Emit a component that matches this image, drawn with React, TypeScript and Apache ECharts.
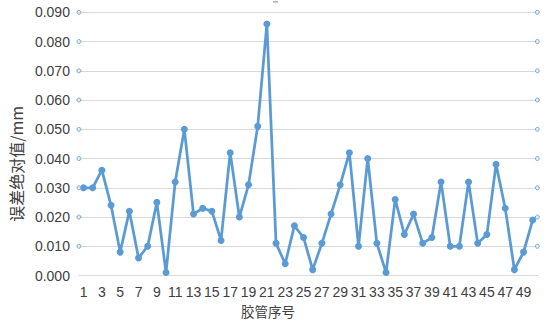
import React, { useEffect, useRef } from "react";
import * as echarts from "echarts";

const categories: string[] = Array.from({ length: 50 }, (_, i) => String(i + 1));
const errorValues: number[] = [
  0.030, 0.030, 0.036, 0.024, 0.008, 0.022, 0.006, 0.010, 0.025, 0.001,
  0.032, 0.050, 0.021, 0.023, 0.022, 0.012, 0.042, 0.020, 0.031, 0.051,
  0.086, 0.011, 0.004, 0.017, 0.013, 0.002, 0.011, 0.021, 0.031, 0.042,
  0.010, 0.040, 0.011, 0.001, 0.026, 0.014, 0.021, 0.011, 0.013, 0.032,
  0.010, 0.010, 0.032, 0.011, 0.014, 0.038, 0.023, 0.002, 0.008, 0.019,
];
const handleLevels: number[] = [0.01, 0.02, 0.03, 0.04, 0.05, 0.06, 0.07, 0.08, 0.09];
const yAxisName = "误差绝对值/mm";
const xAxisName = "胶管序号";

export default function App() {
  const ref = useRef<HTMLDivElement>(null);
  useEffect(() => {
    if (!ref.current) return;
    const chart = echarts.init(ref.current, undefined, { renderer: "svg" });
    const font = "'Liberation Sans', Arial, sans-serif";
    const handleData: number[][] = [];
    handleLevels.forEach((v) => {
      handleData.push([0, v]);
      handleData.push([1, v]);
    });
    chart.setOption({
      animation: false,
      backgroundColor: "#ffffff",
      grid: { left: 63.3, right: 9.7, top: 12.3, bottom: 47, containLabel: false },
      xAxis: [
        {
          type: "category",
          data: categories,
          boundaryGap: true,
          name: xAxisName,
          nameLocation: "middle",
          nameGap: 29,
          nameTextStyle: {
            fontFamily: "'Noto Sans CJK SC', sans-serif",
            fontSize: 13.5,
            color: "#404040",
            verticalAlign: "top",
            padding: [0, 80, 0, 0],
          },
          axisLine: { show: true, lineStyle: { color: "#d9d9d9", width: 1 } },
          axisTick: { show: false },
          axisLabel: {
            interval: 1,
            margin: 9,
            fontFamily: font,
            fontSize: 14,
            color: "#404040",
          },
          splitLine: { show: false },
        },
        {
          type: "value",
          min: 0,
          max: 1,
          show: false,
        },
      ],
      yAxis: {
        type: "value",
        min: 0,
        max: 0.09,
        interval: 0.01,
        name: yAxisName,
        nameLocation: "middle",
        nameGap: 46,
        nameRotate: 90,
        nameTextStyle: {
          fontFamily: "'Noto Sans CJK SC', sans-serif",
          fontSize: 16,
          color: "#404040",
          padding: [0, 40, 0, 0],
        },
        axisLine: { show: false },
        axisTick: { show: false },
        axisLabel: {
          margin: 9,
          fontFamily: font,
          fontSize: 14,
          color: "#404040",
          formatter: (v: number) => v.toFixed(3),
        },
        splitLine: { show: true, lineStyle: { color: "#d9d9d9", width: 1 } },
      },
      series: [
        {
          type: "line",
          data: errorValues,
          xAxisIndex: 0,
          symbol: "circle",
          symbolSize: 7,
          showSymbol: true,
          showAllSymbol: true,
          lineStyle: { color: "#5b9bd5", width: 2.75 },
          itemStyle: { color: "#5b9bd5" },
          z: 3,
        },
        {
          type: "scatter",
          data: handleData,
          xAxisIndex: 1,
          symbol: "circle",
          symbolSize: 4,
          itemStyle: { color: "#dbe9f6", borderColor: "#5b9bd5", borderWidth: 1 },
          z: 4,
          silent: true,
        },
      ],
      graphic: [
        {
          type: "rect",
          shape: { x: 273, y: 1, width: 5, height: 1.5 },
          style: { fill: "#b0b0b0" },
        },
      ],
    });
    return () => chart.dispose();
  }, []);
  return (
    <div
      ref={ref}
      style={{ position: "fixed", left: 0, top: 0, width: 547, height: 323 }}
    />
  );
}
